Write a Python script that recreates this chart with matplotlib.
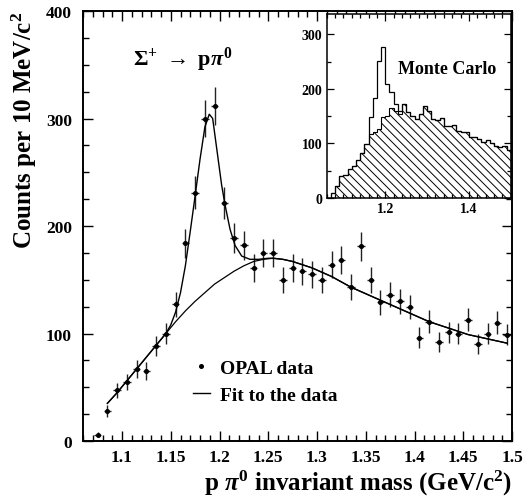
import numpy as np
import matplotlib
matplotlib.use("Agg")
import matplotlib.pyplot as plt
from matplotlib.lines import Line2D
from matplotlib.ticker import MultipleLocator, FixedLocator

plt.rcParams["font.family"] = ["Liberation Serif", "DejaVu Serif"]
plt.rcParams["font.weight"] = "bold"
plt.rcParams["axes.labelweight"] = "bold"
plt.rcParams["mathtext.fontset"] = "custom"
plt.rcParams["mathtext.rm"] = "Liberation Serif:bold"
plt.rcParams["mathtext.it"] = "Liberation Serif:bold:italic"
plt.rcParams["mathtext.bf"] = "Liberation Serif:bold"
plt.rcParams["hatch.linewidth"] = 0.7

# OPAL data, 10 MeV bins
mass = np.round(np.arange(1.075, 1.5, 0.01), 3)
counts = np.array([6, 28, 47, 55, 67, 65, 88, 100, 127,
                   184, 231, 300, 312, 221, 189, 182, 161, 175, 175,
                   150, 161, 158, 155, 150, 164, 168, 143, 181, 150,
                   129, 136, 130, 125, 96, 111, 92, 101, 100, 113,
                   90, 100, 110, 99])

# fit: background part
bkg_x = [1.085, 1.095, 1.105, 1.115, 1.125, 1.135, 1.145, 1.155, 1.165, 1.175,
         1.185, 1.195, 1.205, 1.215, 1.225, 1.235, 1.245, 1.255, 1.265, 1.275,
         1.285, 1.295, 1.305, 1.315, 1.325, 1.335, 1.345, 1.355, 1.365, 1.375,
         1.385, 1.395, 1.405, 1.415, 1.425, 1.435, 1.445, 1.455, 1.465, 1.475,
         1.485, 1.495]
bkg_y = [35, 45, 56, 67, 78, 89, 100, 111, 121, 130,
         138, 146, 152, 158, 163, 167, 169, 170, 169, 167,
         164, 161, 157, 153, 148, 143, 139, 135, 131, 127,
         123, 119, 115, 111, 108, 105, 102, 99, 97, 95,
         93, 91]
# fit: signal region of the full curve
peak_x = [1.150, 1.155, 1.160, 1.165, 1.170, 1.175, 1.180, 1.185, 1.1895, 1.193,
          1.197, 1.2022, 1.2056, 1.2108, 1.2159, 1.2228, 1.2313, 1.240, 1.250]
peak_y = [108, 120, 138, 163, 195, 228, 262, 292, 304, 300,
          273, 238, 220, 197, 182, 172, 169, 169, 170]

# Monte Carlo inset
mc_edges = np.round(np.arange(1.07, 1.505, 0.01), 2)
mc_bkg = [9, 22, 40, 43, 53, 59, 70, 82, 99, 117, 121, 126, 149, 151, 165, 159,
          154, 173, 157, 150, 145, 154, 169, 159, 145, 142, 146, 132, 132, 134,
          123, 120, 120, 112, 112, 108, 102, 106, 100, 96, 93, 96, 88]
mc_total = [9, 22, 40, 43, 53, 59, 70, 82, 99, 148, 184, 251, 277, 209, 195, 172,
            160, 173, 157, 150, 145, 154, 169, 159, 145, 142, 146, 132, 132, 134,
            123, 120, 120, 112, 112, 108, 102, 106, 100, 96, 93, 96, 88]

fig = plt.figure(figsize=(5.24, 5.02), dpi=100)
ax = fig.add_axes([0.1584, 0.1195, 0.8187, 0.8566])

ax.errorbar(mass, counts, yerr=np.sqrt(counts), xerr=0.0038, fmt="o", ms=2.6,
            color="black", ecolor="#222222", elinewidth=1.0, capsize=0)

bx = np.array(bkg_x)
by = np.array(bkg_y)
tot_x = np.concatenate([bx[bx < 1.148], peak_x, bx[bx > 1.252]])
tot_y = np.concatenate([by[bx < 1.148], peak_y, by[bx > 1.252]])
ax.plot(tot_x, tot_y, color="black", lw=1.0)
ax.plot(bkg_x, bkg_y, color="black", lw=0.9)

ax.set_xlim(1.06, 1.5)
ax.set_ylim(0, 400)
ax.xaxis.set_major_locator(FixedLocator([1.1, 1.15, 1.2, 1.25, 1.3, 1.35, 1.4, 1.45, 1.5]))
ax.xaxis.set_minor_locator(MultipleLocator(0.01))
ax.yaxis.set_major_locator(MultipleLocator(100))
ax.yaxis.set_minor_locator(MultipleLocator(25))
ax.set_xticklabels(["1.1", "1.15", "1.2", "1.25", "1.3", "1.35", "1.4", "1.45", "1.5"])
ax.tick_params(which="both", direction="in", top=True, right=True, width=1.0)
ax.tick_params(which="major", length=7, labelsize=12.5)
ax.tick_params(which="minor", length=4)
ax.tick_params(axis="x", pad=6)
ax.tick_params(axis="y", pad=8)
for s in ax.spines.values():
    s.set_linewidth(1.4)

ax.set_xlabel(r"p $\pi^{0}$ invariant mass (GeV/c$^{2}$)", fontsize=18,
              loc="right", labelpad=2)
ax.set_ylabel(r"Counts per 10 MeV/c$^{2}$", fontsize=18, loc="top", labelpad=5)

ax.text(1.111, 350, r"$\Sigma^{+}\ \rightarrow\ $p$\pi^{0}$", fontsize=16)

handles = [Line2D([], [], marker="o", ms=2.6, ls="none", color="black"),
           Line2D([], [], color="black", lw=1.0)]
ax.legend(handles, ["OPAL data", "Fit to the data"], loc="lower left",
          bbox_to_anchor=(0.215, 0.045), frameon=False, fontsize=14,
          handlelength=0.9, handletextpad=0.5, labelspacing=0.5)

# inset
axi = fig.add_axes([0.6235, 0.6036, 0.3511, 0.3665])
axi.stairs(mc_bkg, mc_edges, fill=True, facecolor="none", edgecolor="black",
           hatch="\\\\\\\\", lw=0.8)
axi.stairs(mc_total, mc_edges, color="black", lw=0.9)
axi.set_xlim(1.06, 1.5)
axi.set_ylim(0, 337)
axi.xaxis.set_major_locator(FixedLocator([1.2, 1.4]))
axi.xaxis.set_minor_locator(MultipleLocator(0.02))
axi.yaxis.set_major_locator(MultipleLocator(100))
axi.yaxis.set_minor_locator(MultipleLocator(50))
axi.set_xticklabels(["1.2", "1.4"])
axi.tick_params(which="both", direction="in", top=True, right=True, width=0.9)
axi.tick_params(which="major", length=5, labelsize=10, pad=3)
axi.tick_params(which="minor", length=3)
for s in axi.spines.values():
    s.set_linewidth(1.1)
axi.text(1.231, 238, "Monte Carlo", fontsize=13, va="center")

fig.savefig("out.png", dpi=100)
